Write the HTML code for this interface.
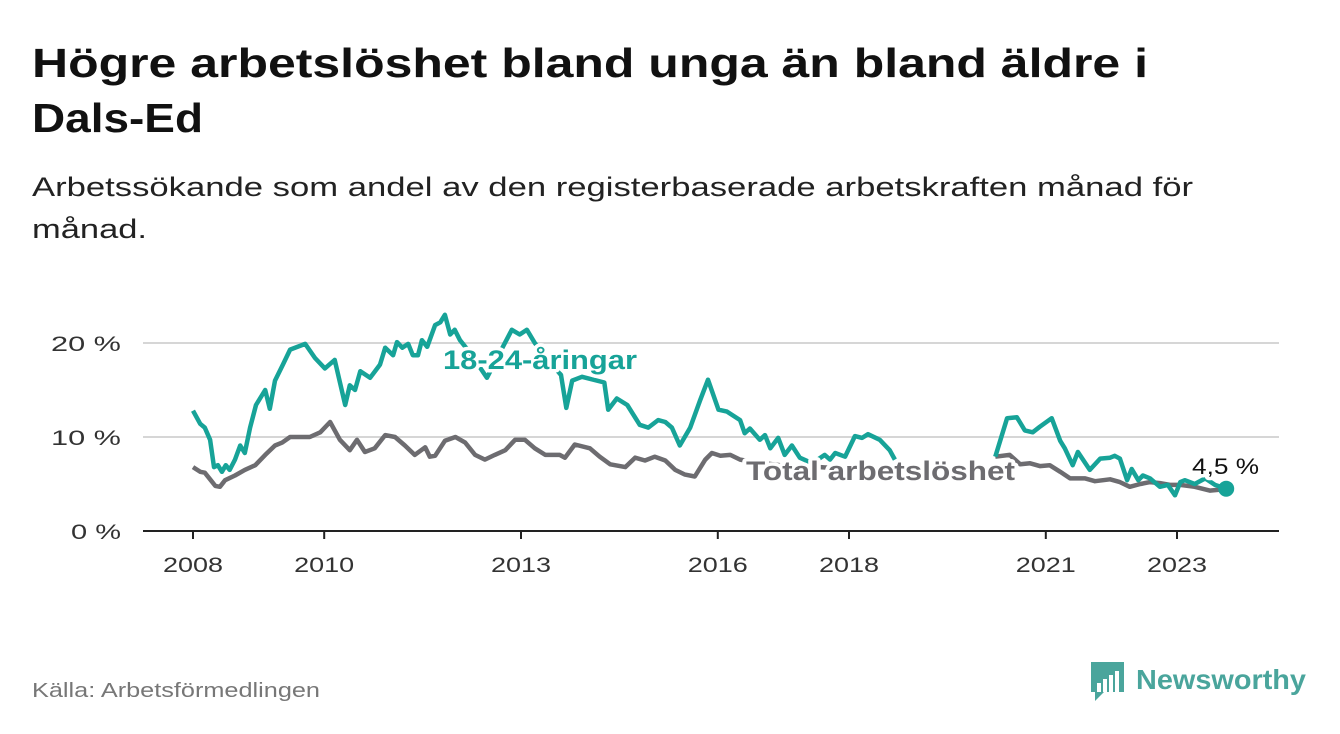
<!DOCTYPE html>
<html><head><meta charset="utf-8"><style>
body{margin:0;background:#fff;width:1340px;height:734px;overflow:hidden;font-family:"Liberation Sans","DejaVu Sans",sans-serif}
</style></head><body>
<svg width="1340" height="734" style="position:absolute;left:0;top:0" id="chart">
<text x="32" y="77" font-size="41" font-weight="bold" fill="#111" textLength="1116" lengthAdjust="spacingAndGlyphs">Högre arbetslöshet bland unga än bland äldre i</text>
<text x="32" y="132" font-size="41" font-weight="bold" fill="#111" textLength="171" lengthAdjust="spacingAndGlyphs">Dals-Ed</text>
<text x="32" y="196" font-size="27" fill="#222" textLength="1161" lengthAdjust="spacingAndGlyphs">Arbetssökande som andel av den registerbaserade arbetskraften månad för</text>
<text x="32" y="238" font-size="27" fill="#222" textLength="115" lengthAdjust="spacingAndGlyphs">månad.</text>
<text x="32" y="697" font-size="20" fill="#777" textLength="288" lengthAdjust="spacingAndGlyphs">Källa: Arbetsförmedlingen</text>
</svg>
<script>
const yTicks=[0,10,20];
const yTickLabels=["0 %","10 %","20 %"];
const xTicks=[2008,2010,2013,2016,2018,2021,2023];
const youthYears=[2008.00,2008.11,2008.18,2008.26,2008.32,2008.38,2008.44,2008.50,2008.56,2008.64,2008.72,2008.79,2008.87,2008.96,2009.10,2009.17,2009.25,2009.37,2009.48,2009.71,2009.86,2010.01,2010.16,2010.32,2010.39,2010.47,2010.55,2010.70,2010.85,2010.93,2011.05,2011.11,2011.19,2011.28,2011.35,2011.43,2011.49,2011.57,2011.69,2011.77,2011.84,2011.92,2011.99,2012.07,2012.22,2012.48,2012.68,2012.86,2012.98,2013.09,2013.21,2013.44,2013.61,2013.69,2013.78,2013.93,2014.27,2014.33,2014.46,2014.62,2014.81,2014.94,2015.09,2015.20,2015.30,2015.42,2015.58,2015.73,2015.85,2016.01,2016.14,2016.34,2016.41,2016.49,2016.64,2016.72,2016.80,2016.92,2017.02,2017.13,2017.25,2017.44,2017.63,2017.71,2017.79,2017.94,2018.09,2018.20,2018.29,2018.47,2018.62,2018.70,2019.5,2020.23,2020.41,2020.56,2020.68,2020.80,2020.91,2021.09,2021.22,2021.29,2021.41,2021.49,2021.67,2021.83,2021.98,2022.05,2022.13,2022.24,2022.31,2022.41,2022.48,2022.59,2022.74,2022.86,2022.97,2023.05,2023.12,2023.27,2023.43,2023.58,2023.75];
const youthValues=[12.8,11.4,11.0,9.7,6.8,7.0,6.3,7.0,6.5,7.6,9.1,8.3,11.0,13.4,15.0,13.0,16.0,17.7,19.3,19.9,18.4,17.3,18.2,13.4,15.5,15.0,17.0,16.3,17.7,19.5,18.7,20.1,19.5,19.9,18.7,18.7,20.3,19.6,21.9,22.2,23.0,20.9,21.4,20.3,19.0,16.3,19.0,21.4,20.9,21.4,20.0,18.0,16.6,13.1,16.0,16.4,15.8,12.9,14.1,13.4,11.3,11.0,11.8,11.6,11.0,9.1,11.0,13.9,16.1,12.9,12.7,11.8,10.4,10.9,9.7,10.2,8.8,9.9,8.1,9.1,7.8,7.2,8.1,7.6,8.3,7.9,10.1,9.9,10.3,9.7,8.6,7.6,null,7.9,12.0,12.1,10.7,10.5,11.1,12.0,9.6,8.8,7.0,8.4,6.5,7.7,7.8,8.0,7.7,5.4,6.6,5.4,5.9,5.6,4.7,4.9,3.8,5.2,5.4,5.0,5.6,4.9,4.5];
const totalYears=[2008.00,2008.11,2008.18,2008.26,2008.34,2008.41,2008.49,2008.64,2008.79,2008.95,2009.10,2009.25,2009.36,2009.48,2009.63,2009.78,2009.94,2010.09,2010.24,2010.39,2010.50,2010.62,2010.77,2010.93,2011.08,2011.23,2011.38,2011.54,2011.61,2011.69,2011.84,2012.00,2012.15,2012.30,2012.45,2012.60,2012.76,2012.91,2013.06,2013.21,2013.37,2013.59,2013.67,2013.82,2014.05,2014.20,2014.36,2014.59,2014.74,2014.89,2015.04,2015.20,2015.35,2015.50,2015.65,2015.81,2015.91,2016.04,2016.19,2016.34,2016.49,2016.95,2017.56,2018.17,2018.70,2019.5,2020.23,2020.45,2020.61,2020.76,2020.91,2021.06,2021.22,2021.37,2021.60,2021.75,2021.98,2022.13,2022.28,2022.44,2022.59,2022.74,2022.89,2023.05,2023.27,2023.50,2023.66,2023.75];
const totalValues=[6.8,6.3,6.2,5.5,4.8,4.7,5.4,5.9,6.5,7.0,8.1,9.1,9.4,10.0,10.0,10.0,10.5,11.6,9.7,8.6,9.7,8.4,8.8,10.2,10.0,9.1,8.1,8.9,7.9,8.0,9.6,10.0,9.4,8.1,7.6,8.1,8.6,9.7,9.7,8.8,8.1,8.1,7.8,9.2,8.8,7.9,7.1,6.8,7.8,7.5,7.9,7.5,6.5,6.0,5.8,7.6,8.3,8.0,8.1,7.6,7.4,7.0,6.8,6.5,6.2,null,7.9,8.1,7.1,7.2,6.9,7.0,6.3,5.6,5.6,5.3,5.5,5.2,4.7,5.0,5.2,5.1,4.9,4.9,4.7,4.3,4.4,4.3];

const svg=document.getElementById('chart');
const NS='http://www.w3.org/2000/svg';
const X0=193,PXY=65.6,Y0=531,PXV=9.4;
const xs=y=>X0+(y-2008)*PXY, ys=v=>Y0-v*PXV;
function mk(tag,a,parent){const e=document.createElementNS(NS,tag);for(const k in a)e.setAttribute(k,a[k]);(parent||svg).appendChild(e);return e;}
yTicks.forEach((t,i)=>{
  const g=mk('line',{x1:143,x2:1279,y1:ys(t),y2:ys(t),stroke:t===0?'#222':'#d6d6d6','stroke-width':2});
  
  
  const l=mk('text',{x:121,y:ys(t)+8,'text-anchor':'end','font-size':21,fill:'#333'});
  l.textContent=yTickLabels[i];
  l.setAttribute('textLength',t===0?50:70);
  l.setAttribute('lengthAdjust','spacingAndGlyphs');
  
  
});
xTicks.forEach(t=>{
  const m=mk('line',{x1:xs(t),x2:xs(t),y1:531,y2:539,stroke:'#222','stroke-width':2});
  
  
  const l=mk('text',{x:xs(t),y:572,'text-anchor':'middle','font-size':21,fill:'#333',textLength:60,lengthAdjust:'spacingAndGlyphs'});
  l.textContent=t;
  
  
});
function path(years,vals){let d='',pen=false;years.forEach((y,i)=>{const v=vals[i];if(v==null){pen=false;return;}d+=(pen?'L':'M')+xs(y).toFixed(1)+','+ys(v).toFixed(1);pen=true;});return d;}
const pt=mk('path',{d:path(totalYears,totalValues),fill:'none',stroke:'#6d6c70','stroke-width':4.5,'stroke-linejoin':'round'});


const py=mk('path',{d:path(youthYears,youthValues),fill:'none',stroke:'#17a398','stroke-width':4.5,'stroke-linejoin':'round'});


function lab(x,y,txt,col,w,len,fs){const t=mk('text',{x:x,y:y,'font-size':fs,'font-weight':w,fill:col,stroke:'#fff','stroke-width':7,'paint-order':'stroke','stroke-linejoin':'round',textLength:len,lengthAdjust:'spacingAndGlyphs'});t.textContent=txt;return t;}
const yl=lab(443,369,'18-24-åringar','#17a398','bold',194,27);


const tl=lab(746,480,'Total arbetslöshet','#6d6c70','bold',269,27);


const vl=lab(1192,474,'4,5 %','#111','normal',67,22);


const ly=youthYears.length-1;
const dot=mk('circle',{cx:xs(youthYears[ly]),cy:ys(youthValues[ly]),r:8,fill:'#17a398'});


const lg=mk('g',{});


mk('path',{d:'M1091,662h33v30h-20l-9,9v-9h-4z',fill:'#4aa59c'},lg);
[[1097,683],[1103,679],[1109,675],[1115,671]].forEach(b=>mk('rect',{x:b[0],y:b[1],width:4,height:692-b[1],fill:'#fff'},lg));
const lt=mk('text',{x:1136,y:689,'font-size':28,'font-weight':'bold',fill:'#4aa59c',textLength:170,lengthAdjust:'spacingAndGlyphs'},lg);
lt.textContent='Newsworthy';
</script>
</body></html>
